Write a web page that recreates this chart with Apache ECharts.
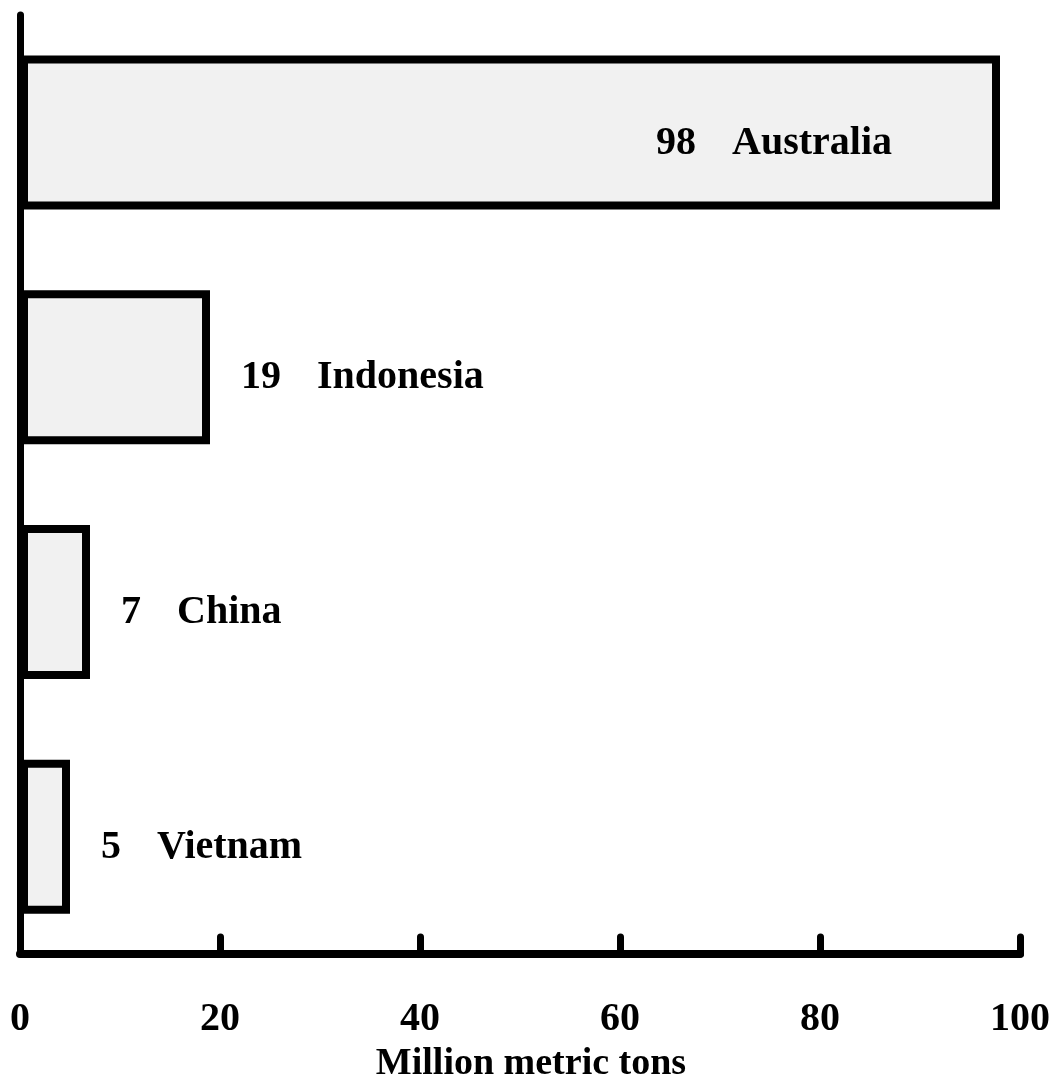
<!DOCTYPE html>
<html>
<head>
<meta charset="utf-8">
<script src="https://cdn.jsdelivr.net/npm/echarts@6/dist/echarts.min.js"></script>
<style>
    html, body { margin: 0; padding: 0; background: #fff; }
    #chart { width: 1054px; height: 1080px; }
</style>
</head>
<body>
<div id="chart"></div>
<script>
// data
var countries = [ 'Australia', 'Indonesia', 'China', 'Vietnam' ];
var tons = [ 98, 19, 7, 5 ];
var xTicks = [ 0, 20, 40, 60, 80, 100 ];
var axisTitle = 'Million metric tons';

var serif = 'Liberation Serif, Times New Roman, serif';

window.onload = function () {
    var chart = echarts.init( document.getElementById( 'chart' ) );

    // the long bar carries its label inside, the others outside
    var barData = tons.map( function ( v ) {
        if ( v > 50 ) {
            return { value: v, label: { position: 'insideRight', distance: 108 } };
        }
        return { value: v };
    } );

    var option = {
        animation: false,
        grid: {
            left: 20,
            right: 34,
            top: 15,
            bottom: 126,
            containLabel: false,
            outerBoundsMode: 'none'
        },
        xAxis: {
            type: 'value',
            min: xTicks[ 0 ],
            max: xTicks[ xTicks.length - 1 ],
            interval: xTicks[ 1 ] - xTicks[ 0 ],
            name: axisTitle,
            nameLocation: 'middle',
            nameGap: 90,
            nameTextStyle: {
                fontFamily: serif,
                fontWeight: 'bold',
                fontSize: 38,
                color: '#000',
                padding: [ 0, 0, 0, 22 ]
            },
            axisLine: {
                show: true,
                lineStyle: { color: '#000', width: 8, cap: 'round' }
            },
            axisTick: {
                show: true,
                inside: true,
                length: 17,
                lineStyle: { color: '#000', width: 7, cap: 'round' }
            },
            axisLabel: {
                margin: 46,
                fontFamily: serif,
                fontWeight: 'bold',
                fontSize: 40,
                color: '#000'
            },
            splitLine: { show: false }
        },
        yAxis: {
            type: 'category',
            inverse: true,
            data: countries,
            axisLine: {
                show: true,
                lineStyle: { color: '#000', width: 7, cap: 'round' }
            },
            axisTick: { show: false },
            axisLabel: { show: false }
        },
        series: [ {
            type: 'bar',
            data: barData,
            barWidth: 154,
            itemStyle: {
                color: '#f1f1f1',
                borderColor: '#000',
                borderWidth: 8
            },
            label: {
                show: true,
                position: 'right',
                distance: 31,
                offset: [ 0, 11 ],
                formatter: function ( p ) {
                    return '{v|' + p.value + '}{n|' + p.name + '}';
                },
                rich: {
                    v: {
                        fontFamily: serif,
                        fontWeight: 'bold',
                        fontSize: 40,
                        color: '#000'
                    },
                    n: {
                        fontFamily: serif,
                        fontWeight: 'bold',
                        fontSize: 40,
                        color: '#000',
                        padding: [ 0, 0, 0, 36 ]
                    }
                }
            }
        } ]
    };

    chart.setOption( option, true );
}
</script>
</body>
</html>
